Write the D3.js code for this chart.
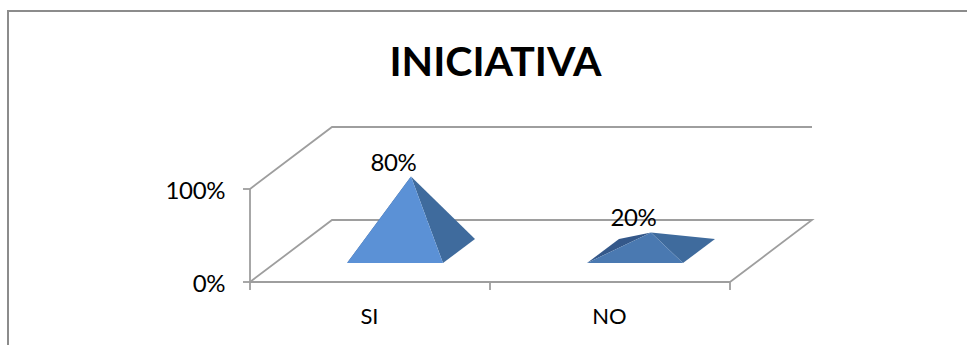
<!DOCTYPE html>
<html>
<head>
<meta charset="utf-8">
<script src="https://cdn.jsdelivr.net/npm/d3@7/dist/d3.min.js"></script>
<style>
  html, body { margin: 0; padding: 0; background: #fff; }
  svg { display: block; }
  text { font-family: Lato, "Open Sans", sans-serif; fill: #000; }
</style>
</head>
<body>
<svg id="chart" width="967" height="345"></svg>
<script>
const chartTitle = "INICIATIVA";
const categories = ["SI", "NO"];
const shares = [0.8, 0.2];
const shareTicks = [0, 1];
const frontColors = ["#5b91d6", "#4a79b1"];
const rightColors = ["#3f6b9d", "#3f6b9d"];
const leftColors = ["#36598a", "#34588a"];

const svg = d3.select("#chart");
const gridColor = "#9e9e9e";

// Horizontal category axis, vertical share axis, and the oblique depth of the floor
const x = d3.scaleBand().domain(categories).range([250, 730]);
const y = d3.scaleLinear().domain([0, 1]).range([282, 189]);
const depthX = d3.scaleLinear().domain([0, 1]).range([0, 82]);
const depthY = d3.scaleLinear().domain([0, 1]).range([0, -62]);

// Oblique projection: px is a screen x on the front edge, v the value, d the depth 0..1
const project = (px, v, d) => [px + depthX(d), y(v) + depthY(d)];
const pts = list => list.map(p => p.join(",")).join(" ");

// Outer frame, only its top and left edges fall inside the view
svg.append("path")
  .attr("d", "M8,345V11H967")
  .attr("fill", "none")
  .attr("stroke", "#8c8c8c")
  .attr("stroke-width", 2);

svg.append("text")
  .attr("x", 495.5)
  .attr("y", 76)
  .attr("text-anchor", "middle")
  .attr("font-size", 41)
  .attr("font-weight", 700)
  .text(chartTitle);

// Wall and floor outlines
const [x0, x1] = x.range();
const walls = [
  [project(x0, 1, 0), project(x0, 1, 1), project(x1, 1, 1)],
  [project(x0, 0, 0), project(x0, 0, 1), project(x1, 0, 1), project(x1, 0, 0)],
  [project(x0, 1, 0), project(x0, 0, 0), project(x1, 0, 0)]
];
svg.append("g").selectAll("polyline").data(walls).join("polyline")
  .attr("points", pts)
  .attr("fill", "none")
  .attr("stroke", gridColor)
  .attr("stroke-width", 1.8);

// Value axis ticks and labels
const yAxis = svg.append("g");
yAxis.selectAll("line").data(shareTicks).join("line")
  .attr("x1", x0 - 7).attr("x2", x0)
  .attr("y1", d => y(d)).attr("y2", d => y(d))
  .attr("stroke", gridColor).attr("stroke-width", 1.8);
yAxis.selectAll("text").data(shareTicks).join("text")
  .attr("x", x0 - 25)
  .attr("y", d => y(d) + 10)
  .attr("text-anchor", "end")
  .attr("font-size", 24)
  .attr("letter-spacing", -0.4)
  .text(d3.format(".0%"));

// Category axis ticks at each band boundary, labels at the band centre
const bandEdges = [...categories.map(c => x(c)), x1];
svg.append("g").selectAll("line").data(bandEdges).join("line")
  .attr("x1", d => d).attr("x2", d => d)
  .attr("y1", y(0)).attr("y2", y(0) + 8)
  .attr("stroke", gridColor).attr("stroke-width", 1.8);
svg.append("g").selectAll("text").data(categories).join("text")
  .attr("x", d => x(d) + x.bandwidth() / 2 - 0.5)
  .attr("y", 324)
  .attr("text-anchor", "middle")
  .attr("font-size", 22)
  .text(d => d);

// Pyramids: square base occupying 40% of the band and of the floor depth
const baseShare = 0.4;
const pyramids = svg.append("g");
categories.forEach((cat, i) => {
  const centre = x(cat) + x.bandwidth() / 2;
  const half = x.bandwidth() * baseShare / 2;
  const dNear = 0.5 - baseShare / 2 + 0.005;
  const dFar = 0.5 + baseShare / 2 - 0.005;
  const fl = project(centre - half, 0, dNear);
  const fr = project(centre + half, 0, dNear);
  const br = project(centre + half, 0, dFar);
  const bl = project(centre - half, 0, dFar);
  const apex = project(centre, shares[i], 0.5);

  pyramids.append("polygon").attr("points", pts([fl, bl, apex])).attr("fill", leftColors[i]);
  pyramids.append("polygon").attr("points", pts([fr, br, apex])).attr("fill", rightColors[i]);
  pyramids.append("polygon").attr("points", pts([fl, fr, apex])).attr("fill", frontColors[i]);

  svg.append("text")
    .attr("x", apex[0] - 17.5)
    .attr("y", apex[1] - 6)
    .attr("text-anchor", "middle")
    .attr("font-size", 24)
    .attr("letter-spacing", -0.4)
    .text(d3.format(".0%")(shares[i]));
});
</script>
</body>
</html>
